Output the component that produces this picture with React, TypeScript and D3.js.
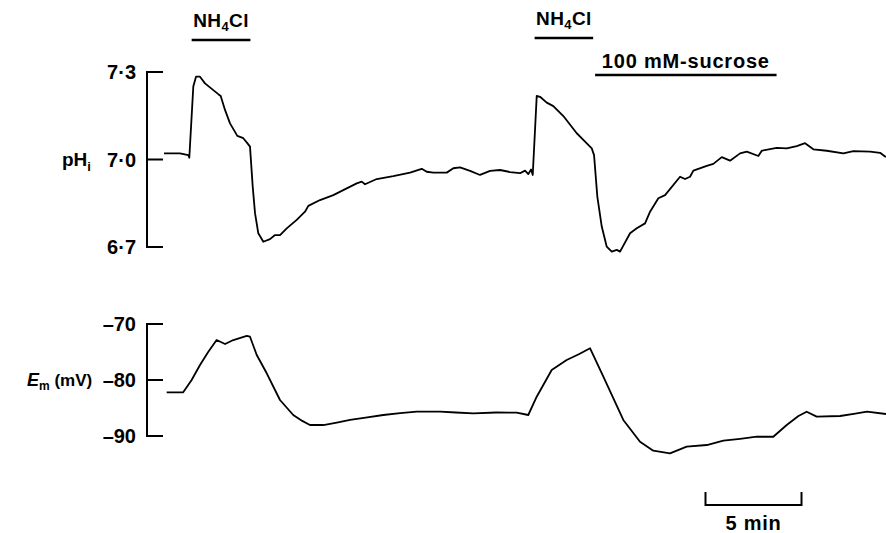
import React from 'react';
import * as d3 from 'd3';

// time in minutes from start of record
const phTime = [0, 0.833, 1.266, 1.318, 1.526, 1.667, 1.875, 2.135, 2.568, 2.828, 2.953, 3.177, 3.438, 3.818, 4.13, 4.339, 4.479, 4.62, 4.74, 4.911, 5.172, 5.521, 5.781, 6.042, 6.391, 6.911, 7.344, 7.516, 8.125, 8.818, 9.516, 10.036, 10.297, 10.469, 11.078, 11.943, 12.813, 13.422, 13.682, 14.026, 14.724, 15.068, 15.417, 15.94, 16.458, 16.98, 17.5, 18.02, 18.542, 18.802, 18.974, 19.115, 19.203, 19.411, 19.583, 19.932, 20.276, 20.797, 21.495, 21.927, 22.276, 22.396, 22.568, 22.797, 23.057, 23.318, 23.578, 23.75, 24.271, 24.62, 25.052, 25.313, 25.745, 26.094, 26.875, 27.135, 27.396, 27.568, 28.266, 28.609, 29.047, 29.479, 30.0, 30.349, 30.953, 31.13, 31.911, 32.432, 32.953, 33.385, 33.818, 34.516, 35.38, 35.901, 36.771, 37.292, 37.552, 37.6];
const phValues = [7.021, 7.021, 7.015, 7.006, 7.25, 7.284, 7.284, 7.261, 7.238, 7.224, 7.218, 7.17, 7.124, 7.081, 7.073, 7.056, 7.044, 6.907, 6.816, 6.747, 6.718, 6.727, 6.741, 6.741, 6.764, 6.793, 6.821, 6.841, 6.861, 6.878, 6.901, 6.918, 6.924, 6.915, 6.933, 6.943, 6.955, 6.968, 6.958, 6.955, 6.955, 6.97, 6.973, 6.961, 6.947, 6.961, 6.964, 6.957, 6.953, 6.962, 6.95, 6.966, 6.947, 7.218, 7.215, 7.195, 7.183, 7.149, 7.09, 7.061, 7.038, 7.015, 6.872, 6.77, 6.701, 6.684, 6.69, 6.684, 6.747, 6.764, 6.781, 6.821, 6.867, 6.878, 6.941, 6.933, 6.941, 6.962, 6.978, 6.985, 7.008, 6.996, 7.021, 7.027, 7.012, 7.03, 7.04, 7.038, 7.046, 7.056, 7.035, 7.03, 7.021, 7.029, 7.027, 7.023, 7.01, 7.01];

const emTime = [0.14, 1.0, 1.44, 1.875, 2.3, 2.74, 3.18, 3.61, 4.31, 4.48, 4.83, 5.35, 6.04, 6.73, 7.2, 7.6, 8.3, 9.0, 9.69, 10.5, 11.42, 12.3, 13.16, 14.38, 15.2, 16.11, 17.3, 18.37, 18.97, 19.41, 20.19, 20.97, 21.6, 22.19, 22.88, 23.92, 24.79, 25.48, 26.35, 27.22, 28.27, 29.13, 30.0, 30.87, 31.73, 32.43, 33.04, 33.47, 33.99, 35.21, 36.0, 36.61, 37.6];
const emValues = [-82.2, -82.2, -80.0, -77.32, -75.0, -72.86, -73.57, -72.86, -72.14, -72.27, -75.54, -78.8, -83.57, -86.25, -87.3, -88.04, -88.04, -87.6, -87.14, -86.7, -86.25, -85.9, -85.66, -85.66, -85.8, -85.95, -85.8, -85.84, -86.25, -82.98, -78.21, -76.43, -75.4, -74.34, -79.41, -87.14, -91.02, -92.63, -93.09, -91.91, -91.61, -90.84, -90.5, -90.13, -90.13, -88.04, -86.43, -85.66, -86.55, -86.43, -86.0, -85.66, -86.07];

const phTicks = [7.3, 7.0, 6.7];
const phTickLabels = ['7·3', '7·0', '6·7'];
const emTicks = [-70, -80, -90];
const emTickLabels = ['–70', '–80', '–90'];

const nh4clPeriods = [[1.44, 4.5], [19.3, 22.35]];
const sucrosePeriod = [22.45, 31.9];
const scaleBarMinutes = [28.2, 33.2];

const W = 886;
const H = 533;
const FONT = '"Liberation Sans", Arial, Helvetica, sans-serif';

export default function App() {
  const x = d3.scaleLinear().domain([0, 37.6]).range([164, 886]);
  const yPh = d3.scaleLinear().domain([6.7, 7.3]).range([247, 72]);
  const yEm = d3.scaleLinear().domain([-90, -70]).range([436, 324]);

  const phLine = d3.line<number>().x((_, i) => x(phTime[i])).y((d) => yPh(d));
  const emLine = d3.line<number>().x((_, i) => x(emTime[i])).y((d) => yEm(d));

  const axisX = 147;
  const tickLen = 16;

  const bracket = (scale: (v: number) => number, ticks: number[]) => {
    const top = scale(ticks[0]);
    const bot = scale(ticks[ticks.length - 1]);
    let d = `M${axisX + tickLen},${top}H${axisX}V${bot}H${axisX + tickLen}`;
    ticks.slice(1, -1).forEach((t) => {
      d += `M${axisX},${scale(t)}H${axisX + tickLen}`;
    });
    return d;
  };

  const textStyle = { fontFamily: FONT, fontWeight: 700, fontSize: 20, fill: '#000' } as const;

  return (
    <svg
      width={W}
      height={H}
      style={{ position: 'absolute', left: 0, top: 0, background: '#fff' }}
    >
      {/* pH axis */}
      <path d={bracket(yPh, phTicks)} fill="none" stroke="#000" strokeWidth={2} />
      {phTicks.map((t, i) => (
        <text key={'p' + i} x={136} y={yPh(t)} dy="0.36em" textAnchor="end" style={textStyle}>
          {phTickLabels[i]}
        </text>
      ))}
      <text x={62} y={yPh(7.0) + 6} style={{ ...textStyle, fontSize: 19, fontWeight: 600 }}>
        pH<tspan fontSize={13} dy={5}>i</tspan>
      </text>

      {/* Em axis */}
      <path d={bracket(yEm, emTicks)} fill="none" stroke="#000" strokeWidth={2} />
      {emTicks.map((t, i) => (
        <text key={'e' + i} x={136} y={yEm(t)} dy="0.36em" textAnchor="end" style={textStyle}>
          {emTickLabels[i]}
        </text>
      ))}
      <text x={27} y={yEm(-80) + 6} style={{ ...textStyle, fontSize: 17, fontWeight: 600 }}>
        <tspan fontStyle="italic" fontSize={18}>E</tspan>
        <tspan fontSize={12} dy={4}>m</tspan>
        <tspan dy={-4}> (mV)</tspan>
      </text>

      {/* traces */}
      <path d={phLine(phValues) || ''} fill="none" stroke="#000" strokeWidth={1.8} strokeLinejoin="round" />
      <path d={emLine(emValues) || ''} fill="none" stroke="#000" strokeWidth={1.8} strokeLinejoin="round" />

      {/* NH4Cl bars */}
      {nh4clPeriods.map((p, i) => {
        const barY = i === 0 ? 40 : 38;
        const cx = (x(p[0]) + x(p[1])) / 2;
        return (
          <g key={'n' + i}>
            <line x1={x(p[0])} x2={x(p[1])} y1={barY} y2={barY} stroke="#000" strokeWidth={2.5} />
            <text x={cx} y={barY - 13} textAnchor="middle" style={{ ...textStyle, fontSize: 19 }} letterSpacing={0.4}>
              NH<tspan fontSize={13} dy={4}>4</tspan><tspan dy={-4}>Cl</tspan>
            </text>
          </g>
        );
      })}

      {/* sucrose bar */}
      <line x1={x(sucrosePeriod[0])} x2={x(sucrosePeriod[1])} y1={75} y2={75} stroke="#000" strokeWidth={2.5} />
      <text
        x={(x(sucrosePeriod[0]) + x(sucrosePeriod[1])) / 2}
        y={68}
        textAnchor="middle"
        style={{ ...textStyle, fontSize: 20 }}
        letterSpacing={0.8}
      >
        100 mM-sucrose
      </text>

      {/* time scale bar */}
      <path
        d={`M${x(scaleBarMinutes[0])},492V505H${x(scaleBarMinutes[1])}V492`}
        fill="none"
        stroke="#000"
        strokeWidth={2}
      />
      <text
        x={(x(scaleBarMinutes[0]) + x(scaleBarMinutes[1])) / 2}
        y={530}
        textAnchor="middle"
        style={textStyle}
        letterSpacing={0.8}
      >
        5 min
      </text>
    </svg>
  );
}
